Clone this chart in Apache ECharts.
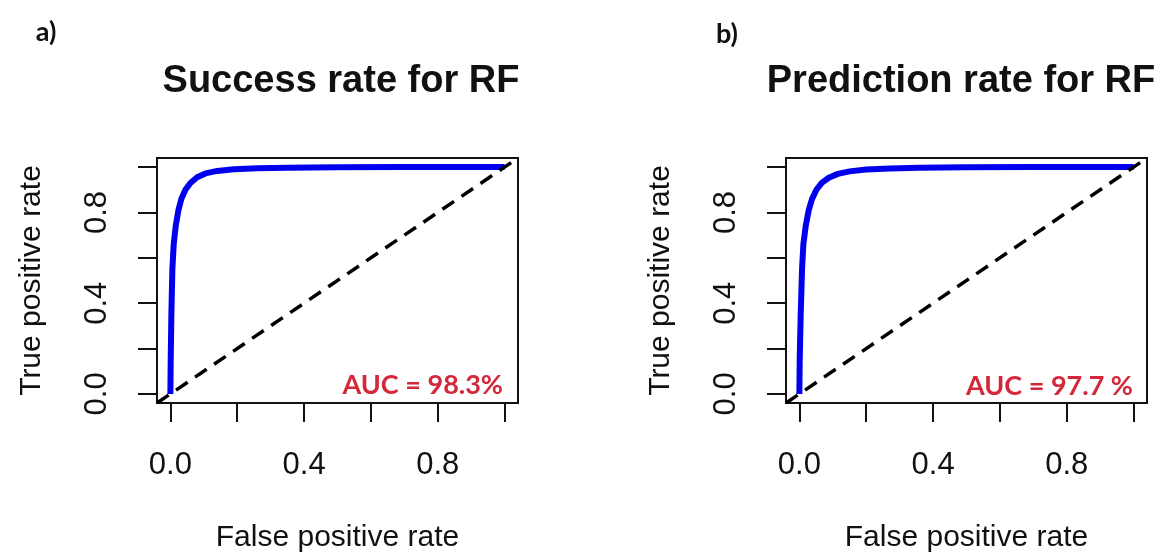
<!DOCTYPE html>
<html>
<head>
<meta charset="utf-8">
<script src="https://cdn.jsdelivr.net/npm/echarts@6/dist/echarts.min.js"></script>
<style>
  html, body { margin: 0; padding: 0; background: #fff; }
  #chart { width: 1164px; height: 554px; }
</style>
</head>
<body>
<div id="chart"></div>
<script>
// ROC curves
const fprSuccess = [0, 0.001, 0.003, 0.006, 0.010, 0.016, 0.024, 0.033, 0.045, 0.060, 0.080, 0.105, 0.14, 0.19, 0.26, 0.35, 0.5, 0.7, 1.0];
const tprSuccess = [0, 0.15, 0.35, 0.55, 0.66, 0.74, 0.81, 0.86, 0.90, 0.93, 0.955, 0.972, 0.983, 0.990, 0.995, 0.997, 0.999, 1.0, 1.0];
const fprPrediction = [0, 0.001, 0.004, 0.008, 0.012, 0.019, 0.028, 0.038, 0.051, 0.067, 0.088, 0.115, 0.15, 0.20, 0.27, 0.36, 0.5, 0.7, 1.0];
const tprPrediction = [0, 0.15, 0.35, 0.55, 0.66, 0.74, 0.81, 0.86, 0.90, 0.93, 0.953, 0.970, 0.981, 0.989, 0.994, 0.997, 0.999, 1.0, 1.0];
const diagonal = [-0.04, 1.04];
const tickValues = [0, 0.2, 0.4, 0.6, 0.8, 1.0];
const tickLabels = [0, 0.4, 0.8];
const panelTitles = ['Success rate for RF', 'Prediction rate for RF'];
const panelTags = ['a)', 'b)'];
const aucTexts = ['AUC = 98.3%', 'AUC = 97.7 %'];

const font = '"Liberation Sans", Arial, sans-serif';
const zip = (xs, ys) => xs.map((x, i) => [x, ys[i]]);

function axis(gridIndex, isY) {
    return {
        type: 'value',
        gridIndex: gridIndex,
        min: -0.04,
        max: 1.04,
        name: isY ? 'True positive rate' : 'False positive rate',
        nameLocation: 'middle',
        nameGap: isY ? 110 : 120,
        nameRotate: isY ? 90 : 0,
        nameTextStyle: { fontFamily: font, fontSize: 30, color: '#111' },
        axisLine: { show: false, onZero: false },
        splitLine: { show: false },
        axisTick: {
            show: true, inside: false, length: 19,
            customValues: tickValues,
            lineStyle: { color: '#111', width: 2 }
        },
        axisLabel: {
            customValues: tickLabels,
            formatter: v => v.toFixed(1),
            rotate: isY ? 90 : 0,
            margin: isY ? 44 : 47,
            fontFamily: font, fontSize: 31, color: '#111'
        }
    };
}

const chart = echarts.init(document.getElementById('chart'));
const grids = [
    { left: 157, top: 158, width: 361, height: 247 },
    { left: 786, top: 158, width: 361, height: 247 }
];

const option = {
    animation: false,
    backgroundColor: '#fff',
    title: panelTitles.map((t, i) => ({
        text: t,
        left: i === 0 ? 336 : 956,
        top: 58,
        textAlign: 'center',
        textStyle: { fontFamily: font, fontWeight: 'bold', fontSize: 38, color: '#111' }
    })),
    grid: grids.map(g => Object.assign({ show: true, borderColor: '#111', borderWidth: 2, backgroundColor: 'transparent' }, g)),
    xAxis: [axis(0, false), axis(1, false)],
    yAxis: [axis(0, true), axis(1, true)],
    series: [
        { type: 'line', xAxisIndex: 0, yAxisIndex: 0, data: zip(fprSuccess, tprSuccess), showSymbol: false, lineStyle: { color: '#0000ee', width: 6 } },
        { type: 'line', xAxisIndex: 0, yAxisIndex: 0, data: zip(diagonal, diagonal), showSymbol: false, lineStyle: { color: '#000', width: 3.5, type: [14, 9] } },
        { type: 'line', xAxisIndex: 1, yAxisIndex: 1, data: zip(fprPrediction, tprPrediction), showSymbol: false, lineStyle: { color: '#0000ee', width: 6 } },
        { type: 'line', xAxisIndex: 1, yAxisIndex: 1, data: zip(diagonal, diagonal), showSymbol: false, lineStyle: { color: '#000', width: 3.5, type: [14, 9] } }
    ],
    graphic: [
        { type: 'text', x: 46, y: 32, style: { text: panelTags[0], font: 'bold 27px Lato, sans-serif', fill: '#111', align: 'center', verticalAlign: 'middle' } },
        { type: 'text', x: 727, y: 34, style: { text: panelTags[1], font: 'bold 27px Lato, sans-serif', fill: '#111', align: 'center', verticalAlign: 'middle' } },
        { type: 'text', x: 503, y: 385, z: 10, style: { text: aucTexts[0], font: 'bold 27px Lato, sans-serif', fill: '#d3283a', align: 'right', verticalAlign: 'middle' } },
        { type: 'text', x: 1133, y: 386, z: 10, style: { text: aucTexts[1], font: 'bold 27px Lato, sans-serif', fill: '#d3283a', align: 'right', verticalAlign: 'middle' } }
    ]
};

chart.setOption(option);
</script>
</body>
</html>
